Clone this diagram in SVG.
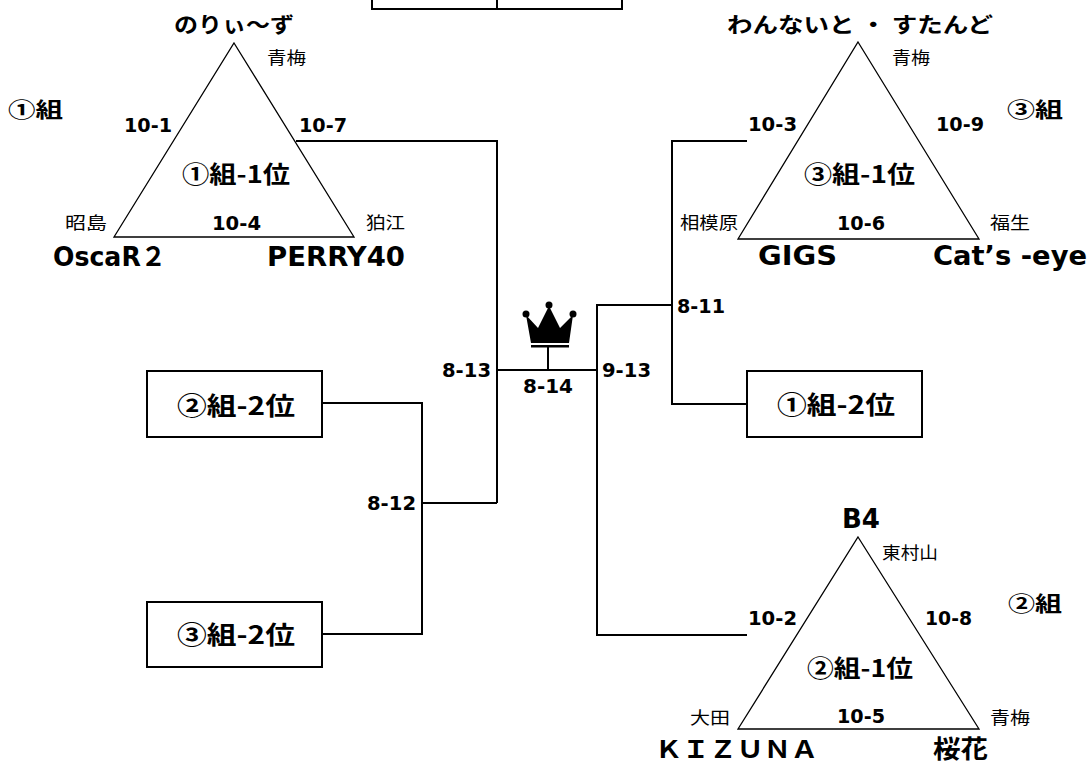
<svg xmlns="http://www.w3.org/2000/svg" width="1089" height="763" viewBox="0 0 1089 763">
<style>
.bg{fill:#fff}
.ln{fill:none;stroke:#000;stroke-width:2}
.tri{fill:none;stroke:#000;stroke-width:1.3;stroke-linejoin:miter}
.box{fill:#fff;stroke:#000;stroke-width:2}
.n{font-family:"DejaVu Sans","Noto Sans CJK JP",sans-serif;font-weight:bold;font-size:19px;fill:#000}
.jp{font-family:"Noto Sans CJK JP",sans-serif;font-weight:bold;fill:#000}
.pl{font-family:"Noto Sans CJK JP",sans-serif;font-weight:normal;font-size:17px;fill:#000}
.big{font-family:"DejaVu Sans","Noto Sans CJK JP",sans-serif;font-weight:bold;font-size:27px;fill:#000}
</style>
<rect class="bg" x="0" y="0" width="1089" height="763"/>

<g id="connectors">
  <path class="ln" d="M372,-5 V9 H622 V-5 M497,-5 V9"/>
  <polyline class="ln" points="296,141 497,141 497,503"/>
  <line class="ln" x1="497" y1="370" x2="597" y2="370"/>
  <line class="ln" x1="548" y1="347" x2="548" y2="370"/>
  <polyline class="ln" points="322,403 422,403 422,634 322,634"/>
  <line class="ln" x1="422" y1="503" x2="497" y2="503"/>
  <polyline class="ln" points="747,141 672,141 672,404 747,404"/>
  <polyline class="ln" points="672,305 597,305 597,635 747,635"/>
</g>

<g id="crown">
  <polygon points="526,315 538,328 549,306 560,328 573,315 569,343 531,343" fill="#000"/>
  <circle cx="526" cy="314" r="3.5" fill="#000"/>
  <circle cx="549" cy="305" r="3.5" fill="#000"/>
  <circle cx="573" cy="314" r="3.5" fill="#000"/>
  <rect x="531" y="345" width="38" height="2.5" fill="#000"/>
</g>

<g id="group1">
  <polygon class="tri" points="234,43 354,237 114,237"/>
  <text class="jp" x="174" y="32" font-size="21" textLength="120" lengthAdjust="spacingAndGlyphs">のりぃ〜ず</text>
  <text class="pl" x="267" y="64" textLength="39" lengthAdjust="spacingAndGlyphs">青梅</text>
  <text class="jp" x="8" y="117" font-size="21" textLength="55" lengthAdjust="spacingAndGlyphs">①組</text>
  <text class="n" x="124" y="132" textLength="48" lengthAdjust="spacingAndGlyphs">10-1</text>
  <text class="n" x="299" y="132" textLength="48" lengthAdjust="spacingAndGlyphs">10-7</text>
  <text class="jp" x="182" y="183" font-size="24" textLength="108" lengthAdjust="spacingAndGlyphs">①組-1位</text>
  <text class="pl" x="65" y="229" textLength="42" lengthAdjust="spacingAndGlyphs">昭島</text>
  <text class="n" x="212" y="230" textLength="49" lengthAdjust="spacingAndGlyphs">10-4</text>
  <text class="pl" x="366" y="229" textLength="39" lengthAdjust="spacingAndGlyphs">狛江</text>
  <text class="big" x="53" y="266" textLength="113" lengthAdjust="spacingAndGlyphs">OscaR２</text>
  <text class="big" x="267" y="266" textLength="138" lengthAdjust="spacingAndGlyphs">PERRY40</text>
</g>

<g id="group3">
  <polygon class="tri" points="858,42 979,239 738,239"/>
  <text class="jp" x="727" y="32" font-size="21" textLength="266" lengthAdjust="spacingAndGlyphs">わんないと ・ すたんど</text>
  <text class="pl" x="892" y="64" textLength="38" lengthAdjust="spacingAndGlyphs">青梅</text>
  <text class="jp" x="1007" y="117" font-size="21" textLength="56" lengthAdjust="spacingAndGlyphs">③組</text>
  <text class="n" x="748" y="131" textLength="49" lengthAdjust="spacingAndGlyphs">10-3</text>
  <text class="n" x="936" y="131" textLength="48" lengthAdjust="spacingAndGlyphs">10-9</text>
  <text class="jp" x="804" y="183" font-size="24" textLength="111" lengthAdjust="spacingAndGlyphs">③組-1位</text>
  <text class="pl" x="680" y="229" textLength="58" lengthAdjust="spacingAndGlyphs">相模原</text>
  <text class="n" x="837" y="230" textLength="48" lengthAdjust="spacingAndGlyphs">10-6</text>
  <text class="pl" x="990" y="229" textLength="40" lengthAdjust="spacingAndGlyphs">福生</text>
  <text class="big" x="758" y="265" textLength="79" lengthAdjust="spacingAndGlyphs">GIGS</text>
  <text class="big" x="933" y="265" textLength="154" lengthAdjust="spacingAndGlyphs">Cat’s -eye</text>
</g>

<g id="group2">
  <polygon class="tri" points="858,537 979,729 738,729"/>
  <text class="big" x="842" y="528" textLength="38" lengthAdjust="spacingAndGlyphs">B4</text>
  <text class="pl" x="882" y="559" textLength="56" lengthAdjust="spacingAndGlyphs">東村山</text>
  <text class="jp" x="1008" y="611" font-size="21" textLength="54" lengthAdjust="spacingAndGlyphs">②組</text>
  <text class="n" x="748" y="625" textLength="49" lengthAdjust="spacingAndGlyphs">10-2</text>
  <text class="n" x="925" y="625" textLength="47" lengthAdjust="spacingAndGlyphs">10-8</text>
  <text class="jp" x="807" y="677" font-size="24" textLength="106" lengthAdjust="spacingAndGlyphs">②組-1位</text>
  <text class="pl" x="690" y="724" textLength="40" lengthAdjust="spacingAndGlyphs">大田</text>
  <text class="n" x="837" y="723" textLength="48" lengthAdjust="spacingAndGlyphs">10-5</text>
  <text class="pl" x="990" y="724" textLength="40" lengthAdjust="spacingAndGlyphs">青梅</text>
  <text class="jp" x="655" y="758" font-size="24" textLength="163" lengthAdjust="spacingAndGlyphs">ＫＩＺＵＮＡ</text>
  <text class="jp" x="933" y="758" font-size="25" textLength="55" lengthAdjust="spacingAndGlyphs">桜花</text>
</g>

<g id="box-g2-2">
  <rect class="box" x="147" y="371" width="175" height="66"/>
  <text class="jp" x="177" y="415" font-size="25" textLength="118" lengthAdjust="spacingAndGlyphs">②組-2位</text>
</g>
<g id="box-g3-2">
  <rect class="box" x="147" y="602" width="175" height="65"/>
  <text class="jp" x="177" y="644" font-size="25" textLength="118" lengthAdjust="spacingAndGlyphs">③組-2位</text>
</g>
<g id="box-g1-2">
  <rect class="box" x="747" y="371" width="175" height="66"/>
  <text class="jp" x="777" y="414" font-size="25" textLength="118" lengthAdjust="spacingAndGlyphs">①組-2位</text>
</g>

<g id="match-labels">
  <text class="n" x="442" y="377" textLength="49" lengthAdjust="spacingAndGlyphs">8-13</text>
  <text class="n" x="523" y="393" textLength="50" lengthAdjust="spacingAndGlyphs">8-14</text>
  <text class="n" x="602" y="377" textLength="49" lengthAdjust="spacingAndGlyphs">9-13</text>
  <text class="n" x="677" y="313" textLength="48" lengthAdjust="spacingAndGlyphs">8-11</text>
  <text class="n" x="367" y="510" textLength="49" lengthAdjust="spacingAndGlyphs">8-12</text>
</g>
</svg>
